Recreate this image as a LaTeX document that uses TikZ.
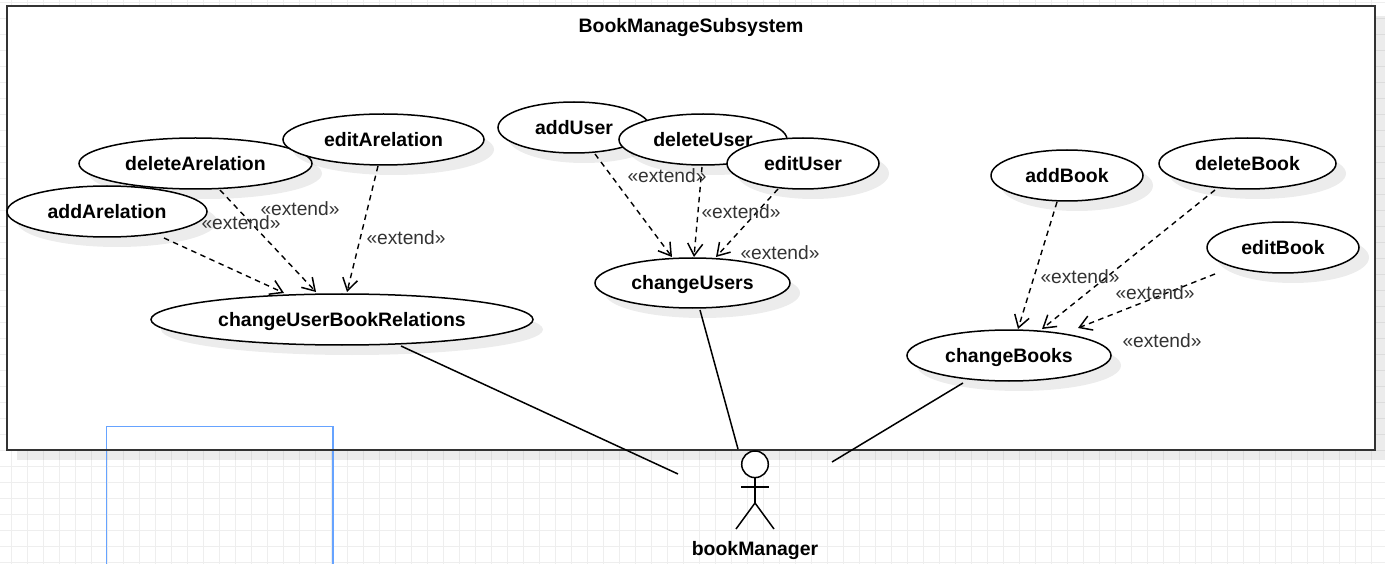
\documentclass[tikz,border=0pt]{standalone}
\usepackage{fontspec}
\setmainfont{Liberation Sans}
\usetikzlibrary{arrows.meta,shapes.geometric,shadows}
\definecolor{gridc}{HTML}{EEEEEE}
\definecolor{boxc}{HTML}{333333}
\definecolor{bluec}{HTML}{66A3FF}
\tikzset{
  softshadow/.style={drop shadow={shadow xshift=10pt,shadow yshift=-10pt,fill=black,opacity=0.075}},
  usecase/.style={ellipse,draw=black,fill=white,line width=1.5pt,inner sep=0pt,outer sep=0pt,
    font=\fontsize{19.45}{23}\selectfont\bfseries,text=black,text height=17pt,text depth=3pt,softshadow},
  extlabel/.style={font=\fontsize{19.2}{23}\selectfont,text=boxc,inner sep=0pt,text height=16pt,text depth=3pt},
  titlelabel/.style={font=\fontsize{19.45}{23}\selectfont\bfseries,text=black,inner sep=0pt,text height=16pt,text depth=3pt},
  dep/.style={draw=black,line width=1.4pt,dash pattern=on 5.5pt off 4.5pt,
    -{Straight Barb[length=12pt,width=15pt,line width=1.5pt]}},
  assoc/.style={draw=black,line width=1.5pt},
  stick/.style={draw=black,line width=1.5pt}
}
\begin{document}
\begin{tikzpicture}[x=1pt,y=-1pt]
\useasboundingbox (0,0) rectangle (1385,564);
% background grid
\foreach \gx in {0,...,86} {\draw[gridc,line width=1pt] ({11.7+16*\gx},0) -- ({11.7+16*\gx},564);}
\foreach \gy in {0,...,35} {\draw[gridc,line width=1pt] (0,{2.3+16*\gy}) -- (1385,{2.3+16*\gy});}
% subsystem box
\node[draw=none,fill=white,minimum width=1368pt,minimum height=444pt,inner sep=0pt,outer sep=0pt,softshadow] (subsystem) at (691,228) {};
% blue selection frame
\draw[bluec,line width=1.5pt] (106.5,566) -- (106.5,426.5) -- (333,426.5) -- (333,566);
\draw[boxc,line width=1.5pt] (subsystem.north west) rectangle (subsystem.south east);
\node[titlelabel] (title) at (691,26) {BookManageSubsystem};
% use cases
\node[usecase,minimum width=382pt,minimum height=51pt] (cubr) at (342,319.5) {changeUserBookRelations};
\node[usecase,minimum width=233pt,minimum height=51pt] (delA) at (195.5,163.5) {deleteArelation};
\node[usecase,minimum width=200pt,minimum height=51pt] (addA) at (107,211.5) {addArelation};
\node[usecase,minimum width=201pt,minimum height=51pt] (editA) at (383.5,139.5) {editArelation};
\node[usecase,minimum width=152pt,minimum height=51pt] (addU) at (574,127.5) {addUser};
\node[usecase,minimum width=168pt,minimum height=51pt] (delU) at (703,139.5) {deleteUser};
\node[usecase,minimum width=152pt,minimum height=51pt] (editU) at (803,163.5) {editUser};
\node[usecase,minimum width=195pt,minimum height=50pt] (cu) at (692.5,283) {changeUsers};
\node[usecase,minimum width=152pt,minimum height=51pt] (addB) at (1067,175.5) {addBook};
\node[usecase,minimum width=177pt,minimum height=51pt] (delB) at (1247.5,163.5) {deleteBook};
\node[usecase,minimum width=152pt,minimum height=51pt] (editB) at (1283,247.5) {editBook};
\node[usecase,minimum width=204pt,minimum height=51pt] (cb) at (1009,355.5) {changeBooks};
% actor
\coordinate (actor) at (755,490);
\draw[stick,fill=white] (755,464.3) circle (13.3);
\draw[stick] (755,477.6) -- (755,503);
\draw[stick] (741,487) -- (768.5,487);
\draw[stick] (736,529) -- (755,503) -- (774,529);
\node[titlelabel] (mgr) at (755,549) {bookManager};
% extend dependencies
\draw[dep] ([shift={(57,26.5)}]addA.center) -- ([shift={(-58,-26.5)}]cubr.center);
\draw[dep] ([shift={(24.5,26.5)}]delA.center) -- ([shift={(-26,-27.5)}]cubr.center);
\draw[dep] ([shift={(-5.5,26.5)}]editA.center) -- ([shift={(5,-27.5)}]cubr.center);
\draw[dep] ([shift={(21,26.5)}]addU.center) -- ([shift={(-20.5,-26)}]cu.center);
\draw[dep] ([shift={(-1,27.5)}]delU.center) -- ([shift={(1.5,-26)}]cu.center);
\draw[dep] ([shift={(-25,25.5)}]editU.center) -- ([shift={(23.5,-26)}]cu.center);
\draw[dep] ([shift={(-10,26.5)}]addB.center) -- ([shift={(9,-26.5)}]cb.center);
\draw[dep] ([shift={(-32.5,26.5)}]delB.center) -- ([shift={(33,-26.5)}]cb.center);
\draw[dep] ([shift={(-68,26.5)}]editB.center) -- ([shift={(69,-27.5)}]cb.center);
% associations
\draw[assoc] ([shift={(59,26.5)}]cubr.center) -- ([shift={(-77,-16)}]actor);
\draw[assoc] ([shift={(7.5,27)}]cu.center) -- ([shift={(-17,-41)}]actor);
\draw[assoc] ([shift={(-46,27.5)}]cb.center) -- ([shift={(77,-28)}]actor);
% labels
\node[extlabel] (x1) at (300,209) {«extend»};
\node[extlabel] (x2) at (241,223) {«extend»};
\node[extlabel] (x3) at (406,238) {«extend»};
\node[extlabel] (x4) at (667,176) {«extend»};
\node[extlabel] (x5) at (741,212) {«extend»};
\node[extlabel] (x6) at (780,253) {«extend»};
\node[extlabel] (x7) at (1080,277) {«extend»};
\node[extlabel] (x8) at (1155,293) {«extend»};
\node[extlabel] (x9) at (1162,341) {«extend»};
\end{tikzpicture}
\end{document}
